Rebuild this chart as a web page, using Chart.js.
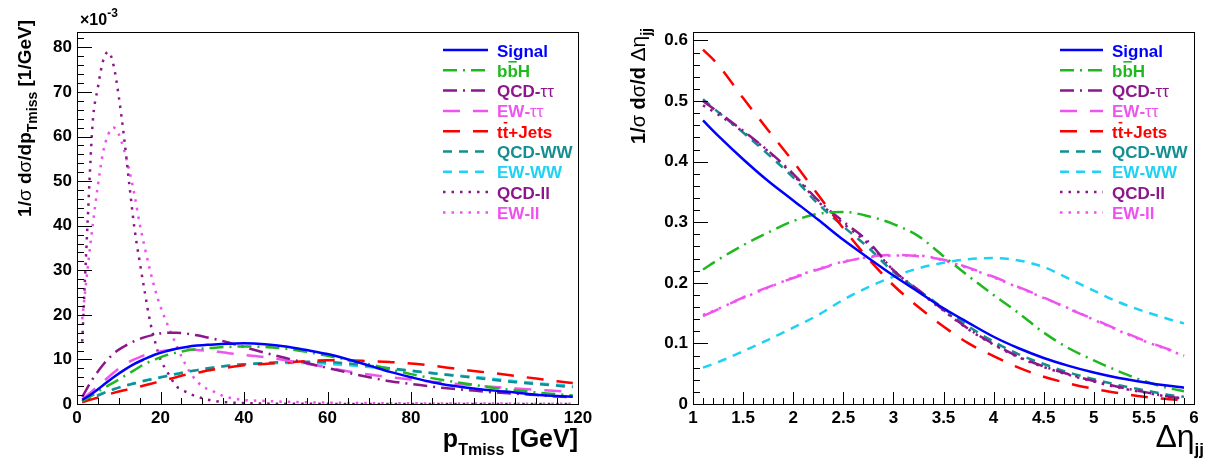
<!DOCTYPE html>
<html>
<head>
<meta charset="utf-8">
<script src="https://cdn.jsdelivr.net/npm/chart.js@4.4.1/dist/chart.umd.min.js"></script>
<style>
  html, body { margin: 0; padding: 0; background: #fff; }
  #wrap { position: relative; width: 1222px; height: 461px; }
  .panel { position: absolute; top: 0; width: 611px; height: 461px; }
</style>
</head>
<body>
<div id="wrap">
  <div class="panel" style="left:0"><canvas id="ptChart" width="611" height="461"></canvas></div>
  <div class="panel" style="left:611px"><canvas id="etaChart" width="611" height="461"></canvas></div>
</div>
<script>
// === LABELS ===
const labels = ["Signal", "bb\u0305H", "QCD-ττ", "EW-ττ", "tt\u0305+Jets", "QCD-WW", "EW-WW", "QCD-ll", "EW-ll"];

// === pTmiss (values in units of 1e-3 / GeV) ===
const ptX = [1.25, 3.75, 6.25, 8.75, 11.25, 13.75, 16.25, 18.75, 21.25, 23.75, 26.25, 28.75, 31.25, 33.75, 36.25,
             40, 45, 50, 55, 60, 65, 70, 75, 80, 85, 90, 95, 100, 105, 110, 115, 118.75];
const signalPt = [0.9, 2.4, 4.2, 6.0, 7.6, 9.0, 10.1, 11.1, 11.8, 12.4, 12.8, 13.1, 13.3, 13.4, 13.5,
                  13.6, 13.4, 12.9, 12.1, 11.2, 10.0, 8.6, 7.2, 6.0, 4.9, 4.1, 3.5, 3.0, 2.6, 2.1, 1.8, 1.6];
const bbhPt = [0.6, 2.0, 3.5, 4.8, 6.2, 7.6, 9.0, 10.0, 10.9, 11.5, 12.0, 12.3, 12.5, 12.7, 12.8,
               12.9, 12.8, 12.4, 11.7, 10.8, 9.9, 8.9, 7.8, 6.7, 5.8, 5.0, 4.3, 3.6, 3.1, 2.6, 2.2, 1.9];
const qcdTauPt = [1.6, 5.6, 8.8, 11.3, 12.9, 14.1, 15.0, 15.6, 16.0, 16.0, 15.8, 15.4, 14.9, 14.4, 13.8,
                  12.8, 11.5, 10.3, 9.2, 8.1, 7.0, 6.0, 5.1, 4.5, 3.9, 3.4, 3.0, 2.6, 2.3, 2.0, 1.7, 1.5];
const ewTauPt = [1.0, 3.0, 5.0, 7.0, 8.8, 10.0, 11.0, 11.6, 12.0, 12.2, 12.2, 12.1, 11.9, 11.7, 11.4,
                 11.0, 10.5, 9.8, 9.0, 8.2, 7.3, 6.6, 6.0, 5.5, 5.0, 4.6, 4.2, 3.8, 3.5, 3.2, 2.9, 2.7];
const ttPt = [0.4, 1.1, 1.8, 2.5, 3.1, 3.6, 4.2, 4.8, 5.4, 6.0, 6.6, 7.0, 7.5, 7.9, 8.2,
              8.7, 9.0, 9.3, 9.6, 9.8, 9.8, 9.6, 9.4, 9.1, 8.6, 8.0, 7.4, 6.9, 6.3, 5.7, 5.1, 4.7];
const qcdWwPt = [0.5, 1.4, 2.4, 3.3, 4.0, 4.6, 5.2, 5.7, 6.2, 6.7, 7.2, 7.6, 8.0, 8.3, 8.6,
                 8.9, 9.2, 9.4, 9.5, 9.4, 9.1, 8.6, 8.0, 7.5, 6.9, 6.4, 5.9, 5.4, 4.9, 4.5, 4.1, 3.8];
const ewWwPt = [0.5, 1.5, 2.5, 3.3, 4.1, 4.7, 5.3, 5.8, 6.3, 6.8, 7.2, 7.6, 8.0, 8.3, 8.6,
                8.9, 9.1, 9.2, 9.2, 9.0, 8.7, 8.3, 7.9, 7.4, 7.0, 6.5, 6.1, 5.6, 5.1, 4.7, 4.3, 4.1];
// the two dilepton samples peak sharply, they get a finer x grid
const llX = [1.25, 2.5, 3.75, 5, 6.25, 7.5, 8.75, 10, 11.25, 12.5, 13.75, 15, 16.25, 17.5, 18.75, 20, 21.25,
             22.5, 23.75, 25, 27.5, 30, 32.5, 35, 40, 45, 50, 60, 70, 80, 90, 100, 110, 118.75];
const qcdLlPt = [14, 40, 63, 71, 77, 79, 76, 69, 60, 49.5, 39.5, 32, 25, 18.5, 13.8, 10, 7.8,
                 5.8, 4.0, 3.3, 2.1, 1.3, 0.75, 0.45, 0.2, 0.1, 0.05, 0.03, 0.02, 0.01, 0.01, 0, 0, 0];
const ewLlPt = [19, 30, 40, 49, 56.5, 60.5, 62, 60.5, 57, 52.5, 47, 40.5, 35, 30, 25.5, 21.8, 18.8,
                16, 13.3, 10.7, 6.5, 4.0, 2.9, 1.8, 0.9, 0.7, 0.5, 0.3, 0.2, 0.15, 0.1, 0.1, 0.05, 0.05];

// === Delta eta_jj ===
const etaX = [1.1, 1.25, 1.5, 1.75, 2, 2.25, 2.5, 2.75, 3, 3.25, 3.5, 3.75, 4, 4.25, 4.5, 4.75, 5, 5.25, 5.5, 5.75, 5.9];
const signalEta = [0.468, 0.443, 0.404, 0.368, 0.336, 0.304, 0.271, 0.241, 0.212, 0.185, 0.158,
                   0.134, 0.111, 0.092, 0.076, 0.063, 0.052, 0.043, 0.036, 0.030, 0.027];
const bbhEta = [0.222, 0.238, 0.262, 0.283, 0.302, 0.314, 0.317, 0.310, 0.297, 0.277, 0.244,
                0.211, 0.180, 0.150, 0.118, 0.092, 0.072, 0.054, 0.038, 0.026, 0.021];
const qcdTauEta = [0.500, 0.482, 0.451, 0.418, 0.380, 0.336, 0.301, 0.268, 0.221, 0.188, 0.155,
                   0.124, 0.099, 0.078, 0.062, 0.049, 0.038, 0.028, 0.020, 0.012, 0.009];
const ewTauEta = [0.145, 0.156, 0.176, 0.193, 0.208, 0.222, 0.234, 0.243, 0.246, 0.244, 0.238,
                  0.225, 0.210, 0.193, 0.176, 0.157, 0.140, 0.122, 0.105, 0.090, 0.080];
const ttEta = [0.585, 0.560, 0.505, 0.452, 0.400, 0.345, 0.290, 0.240, 0.196, 0.160, 0.128,
               0.100, 0.079, 0.060, 0.045, 0.034, 0.025, 0.018, 0.012, 0.008, 0.006];
const qcdWwEta = [0.503, 0.482, 0.448, 0.412, 0.374, 0.330, 0.293, 0.258, 0.218, 0.188, 0.158,
                  0.128, 0.103, 0.082, 0.066, 0.052, 0.041, 0.031, 0.023, 0.015, 0.012];
const ewWwEta = [0.060, 0.069, 0.087, 0.106, 0.126, 0.147, 0.172, 0.193, 0.210, 0.224, 0.233,
                 0.239, 0.241, 0.237, 0.226, 0.207, 0.187, 0.168, 0.153, 0.140, 0.133];
const qcdLlEta = [0.493, 0.478, 0.449, 0.417, 0.378, 0.334, 0.298, 0.264, 0.221, 0.186, 0.154,
                  0.123, 0.098, 0.077, 0.061, 0.048, 0.037, 0.027, 0.019, 0.012, 0.009];
const ewLlEta = [0.147, 0.157, 0.175, 0.192, 0.209, 0.223, 0.235, 0.242, 0.245, 0.245, 0.237,
                 0.224, 0.209, 0.192, 0.175, 0.158, 0.139, 0.121, 0.104, 0.089, 0.079];

// === STYLES (ROOT-like line styles) ===
const styles = [
  { color: "#0000ff", dash: [], width: 2.5 },
  { color: "#1fb81f", dash: [14, 6, 2, 6], width: 2.5 },
  { color: "#8b178b", dash: [14, 6, 2, 6], width: 2.5 },
  { color: "#ee55ee", dash: [17, 13], width: 2.5 },
  { color: "#ff0000", dash: [17, 13], width: 2.5 },
  { color: "#138f8f", dash: [9, 7], width: 2.5 },
  { color: "#1ed2f4", dash: [9, 7], width: 2.5 },
  { color: "#8b178b", dash: [2.5, 6], width: 2.5 },
  { color: "#f050f0", dash: [2.5, 6], width: 2.5 },
];

const FONT = '"Liberation Sans", Arial, Helvetica, sans-serif';

function makeSet(i, xs, ys) {
  const st = styles[i];
  return {
    label: labels[i],
    data: xs.map((x, k) => ({ x: x, y: ys[k] })),
    borderColor: st.color,
    borderDash: st.dash,
    borderWidth: st.width,
    pointRadius: 0,
    fill: false,
    cubicInterpolationMode: "monotone",
  };
}

function partFont(p) {
  return (p.w || "bold") + " " + p.s + "px " + FONT;
}

// draw a string made of pieces (main text, subscripts, superscripts)
function drawParts(ctx, parts, x, y, align, rotate) {
  ctx.save();
  ctx.translate(x, y);
  if (rotate) ctx.rotate(-Math.PI / 2);
  ctx.textBaseline = "alphabetic";
  ctx.textAlign = "left";
  let total = 0;
  parts.forEach(p => { ctx.font = partFont(p); total += ctx.measureText(p.t).width; });
  let cx = align === "end" ? -total : 0;
  parts.forEach(p => {
    ctx.font = partFont(p);
    ctx.fillText(p.t, cx, p.dy || 0);
    cx += ctx.measureText(p.t).width;
  });
  ctx.restore();
}

// legend text: characters followed by U+0305 get an overline, greek letters are not bold
function drawLabel(ctx, text, x, y, color) {
  ctx.fillStyle = color;
  ctx.strokeStyle = color;
  ctx.textBaseline = "alphabetic";
  ctx.textAlign = "left";
  const chars = Array.from(text);
  for (let i = 0; i < chars.length; i++) {
    if (chars[i] === "\u0305") continue;
    ctx.font = (chars[i] === "τ" ? "normal 17px " : "bold 17px ") + FONT;
    const w = ctx.measureText(chars[i]).width;
    ctx.fillText(chars[i], x, y);
    if (chars[i + 1] === "\u0305") {
      ctx.save();
      ctx.lineWidth = 1.6;
      ctx.setLineDash([]);
      ctx.beginPath();
      ctx.moveTo(x + 1, y - 15);
      ctx.lineTo(x + w - 1, y - 15);
      ctx.stroke();
      ctx.restore();
    }
    x += w;
  }
}

// === PLUGINS ===
const rootFrame = {
  id: "rootFrame",
  afterDatasetsDraw(chart, args, o) {
    const { ctx, chartArea: a } = chart;
    const xs = chart.scales.x, ys = chart.scales.y;
    ctx.save();
    ctx.strokeStyle = "#000";
    ctx.lineWidth = 1;
    ctx.setLineDash([]);
    ctx.beginPath();
    const nx = Math.round((xs.max - xs.min) / o.xMinor);
    for (let k = 0; k <= nx; k++) {
      const px = Math.round(xs.getPixelForValue(xs.min + k * o.xMinor)) + 0.5;
      const len = k % o.xRatio === 0 ? 12 : 6;
      ctx.moveTo(px, a.bottom);
      ctx.lineTo(px, a.bottom - len);
    }
    const ny = Math.floor((ys.max - ys.min) / o.yMinor + 1e-6);
    for (let k = 0; k <= ny; k++) {
      const py = Math.round(ys.getPixelForValue(ys.min + k * o.yMinor)) + 0.5;
      const len = k % o.yRatio === 0 ? 15 : 7;
      ctx.moveTo(a.left, py);
      ctx.lineTo(a.left + len, py);
    }
    ctx.stroke();
    ctx.strokeRect(Math.round(a.left) + 0.5, Math.round(a.top) + 0.5, Math.round(a.width), Math.round(a.height));
    ctx.restore();
  },
};

const rootLegend = {
  id: "rootLegend",
  afterDraw(chart, args, o) {
    const ctx = chart.ctx;
    ctx.save();
    chart.data.datasets.forEach((ds, i) => {
      const y = o.top + i * o.row;
      ctx.strokeStyle = ds.borderColor;
      ctx.lineWidth = ds.borderWidth;
      ctx.setLineDash(ds.borderDash);
      ctx.beginPath();
      ctx.moveTo(o.x0, y);
      ctx.lineTo(o.x1, y);
      ctx.stroke();
      ctx.setLineDash([]);
      drawLabel(ctx, ds.label, o.tx, y + 6.5, ds.borderColor);
    });
    ctx.restore();
  },
};

const rootTitles = {
  id: "rootTitles",
  afterDraw(chart, args, o) {
    const ctx = chart.ctx;
    ctx.fillStyle = "#000";
    o.items.forEach(it => drawParts(ctx, it.parts, it.x, it.y, it.align, it.rotate));
  },
};

function tickFont() {
  return { family: FONT, size: 17, weight: "bold" };
}

function baseOptions(cfg) {
  return {
    responsive: false,
    animation: false,
    events: [],
    layout: { padding: cfg.padding },
    plugins: {
      legend: { display: false },
      tooltip: { enabled: false },
      rootFrame: cfg.frame,
      rootLegend: cfg.legend,
      rootTitles: { items: cfg.titles },
    },
    scales: {
      x: {
        type: "linear",
        min: cfg.xMin, max: cfg.xMax,
        grid: { display: false, drawTicks: false },
        border: { display: false },
        ticks: { stepSize: cfg.xStep, autoSkip: false, maxRotation: 0, includeBounds: false,
                 padding: 4, color: "#000", font: tickFont(),
                 callback: v => String(Number(v.toFixed(3))) },
        afterFit(scale) { scale.height = 57; },
      },
      y: {
        type: "linear",
        min: 0, max: cfg.yMax,
        grid: { display: false, drawTicks: false },
        border: { display: false },
        ticks: { stepSize: cfg.yStep, includeBounds: false, padding: 5, color: "#000", font: tickFont(),
                 callback: v => String(Number(v.toFixed(3))) },
        afterFit(scale) { scale.width = cfg.yWidth; },
      },
    },
  };
}

// === LEFT: pTmiss ===
new Chart(document.getElementById("ptChart"), {
  type: "line",
  data: {
    datasets: [
      makeSet(0, ptX, signalPt),
      makeSet(1, ptX, bbhPt),
      makeSet(2, ptX, qcdTauPt),
      makeSet(3, ptX, ewTauPt),
      makeSet(4, ptX, ttPt),
      makeSet(5, ptX, qcdWwPt),
      makeSet(6, ptX, ewWwPt),
      makeSet(7, llX, qcdLlPt),
      makeSet(8, llX, ewLlPt),
    ],
  },
  options: baseOptions({
    padding: { top: 32, right: 33, left: 0, bottom: 0 },
    xMin: 0, xMax: 120, xStep: 20,
    yMax: 83.45, yStep: 10, yWidth: 77,
    frame: { xMinor: 5, xRatio: 4, yMinor: 2, yRatio: 5 },
    legend: { x0: 443, x1: 488, tx: 497, top: 50, row: 20.3 },
    titles: [
      { x: 31, y: 20, align: "end", rotate: true,
        parts: [{ t: "1/", s: 19 }, { t: "σ", s: 19, w: "normal" }, { t: " d", s: 19 }, { t: "σ", s: 19, w: "normal" },
                { t: "/dp", s: 19 }, { t: "Tmiss", s: 14, dy: 6 }, { t: " [1/GeV]", s: 19 }] },
      { x: 578, y: 447, align: "end",
        parts: [{ t: "p", s: 25 }, { t: "Tmiss", s: 16, dy: 8 }, { t: " [GeV]", s: 25 }] },
      { x: 80, y: 25, align: "start",
        parts: [{ t: "×10", s: 16 }, { t: "-3", s: 12, dy: -8 }] },
    ],
  }),
  plugins: [rootFrame, rootLegend, rootTitles],
});

// === RIGHT: Delta eta_jj ===
new Chart(document.getElementById("etaChart"), {
  type: "line",
  data: {
    datasets: [
      makeSet(0, etaX, signalEta),
      makeSet(1, etaX, bbhEta),
      makeSet(2, etaX, qcdTauEta),
      makeSet(3, etaX, ewTauEta),
      makeSet(4, etaX, ttEta),
      makeSet(5, etaX, qcdWwEta),
      makeSet(6, etaX, ewWwEta),
      makeSet(7, etaX, qcdLlEta),
      makeSet(8, etaX, ewLlEta),
    ],
  },
  options: baseOptions({
    padding: { top: 32, right: 28, left: 0, bottom: 0 },
    xMin: 1, xMax: 6, xStep: 0.5,
    yMax: 0.614, yStep: 0.1, yWidth: 82,
    frame: { xMinor: 0.1, xRatio: 5, yMinor: 0.02, yRatio: 5 },
    legend: { x0: 449, x1: 492, tx: 501, top: 50, row: 20.3 },
    titles: [
      { x: 34, y: 28, align: "end", rotate: true,
        parts: [{ t: "1/", s: 20 }, { t: "σ", s: 20, w: "normal" }, { t: " d", s: 20 }, { t: "σ", s: 20, w: "normal" },
                { t: "/d ", s: 20 }, { t: "Δη", s: 21, w: "normal" }, { t: "jj", s: 14, dy: 6 }] },
      { x: 593, y: 447, align: "end",
        parts: [{ t: "Δη", s: 32, w: "normal" }, { t: "jj", s: 17, dy: 8 }] },
    ],
  }),
  plugins: [rootFrame, rootLegend, rootTitles],
});
</script>
</body>
</html>
